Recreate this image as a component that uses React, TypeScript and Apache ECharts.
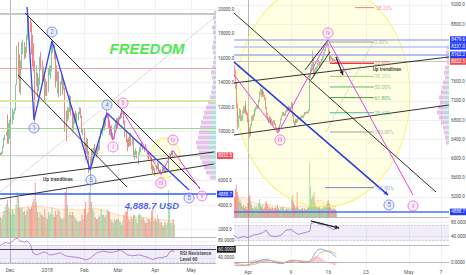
import React, { useEffect, useRef } from "react";
import * as echarts from "echarts";

// ================= LEFT PANEL: BTCUSD daily (x = days since 1 Dec 2017) =================
const leftFirstDay = -8; // 23 Nov 2017
const leftFirstOpen = 8233;
const leftClose = [
  8100, 8250, 8750, 9300, 9700, 9900, 9850, 9950,
  10850, 10900, 11250, 11600, 11700, 13800, 16800, 16050, 15000, 15000, 16700, 17200, 16400, 16600, 17600, 19300,
  19100, 18900, 17700, 16600, 15800, 13800, 14600, 14000, 14000, 16000, 15800, 14600, 14700, 12900, 14200,
  13500, 14800, 15200, 15200, 17100, 17200, 16200, 15000, 14400, 14900, 13300, 13800, 14200, 13600, 13600, 11400,
  11200, 11300, 11600, 12900, 11500, 10800, 11000, 11300, 11100, 11100, 11400, 11800, 11200, 10100, 10200,
  9100, 8900, 9200, 8200, 6900, 7700, 7600, 8200, 8700, 8500, 8100, 8900, 8500, 9500, 10000, 10200, 11100, 10400,
  11100, 11400, 10500, 9800, 10200, 9700, 9700, 10400, 10700, 10400,
  11000, 11000, 11500, 11500, 11600, 10700, 9900, 9300, 9200, 8800, 9600, 9200, 9200, 8200, 8300, 8300, 7900, 8200,
  8600, 9000, 8900, 8700, 8700, 8600, 8500, 8100, 7800, 7900, 7100, 6800, 6900,
  6800, 7000, 7400, 6800, 6800, 6600, 6900, 7000, 6700, 6800, 6900, 7900, 7900, 8000, 8300, 8000, 8022.5,
];
const leftHigh = [
  8270, 8350, 8800, 9500, 9750, 10000, 11400, 10700,
  10950, 11150, 11850, 11650, 11900, 13850, 17000, 17300, 16300, 15800, 17300, 17500, 17300, 16900, 17900, 19400,
  19700, 19200, 18900, 17900, 17200, 15800, 15400, 14800, 14400, 16100, 16500, 15800, 15300, 14700, 14300,
  14100, 15200, 15400, 15400, 17100, 17300, 17100, 16300, 15400, 14900, 14900, 14100, 14600, 14300, 14300, 13600,
  11700, 12000, 11900, 13000, 12900, 11900, 11300, 11500, 11700, 11500, 11600, 12000, 11900, 11300, 10300,
  10200, 9100, 9500, 9400, 8400, 7900, 8600, 8600, 8700, 9000, 8600, 8900, 8900, 9500, 10200, 10300, 11100, 11200,
  11300, 11800, 11400, 10900, 10400, 10500, 9900, 10500, 10900, 11100,
  11100, 11200, 11500, 11500, 11700, 11600, 10900, 10100, 9400, 9500, 9700, 9900, 9500, 9400, 8400, 8600, 8400, 8300,
  8700, 9000, 9200, 9100, 8800, 9000, 8700, 8500, 8200, 8100, 7900, 7300, 7200,
  7000, 7100, 7500, 7400, 6900, 6900, 7100, 7100, 7200, 6900, 6950, 8000, 8200, 8200, 8450, 8400, 8200,
];
const leftLow = [
  8050, 7980, 8200, 8700, 9300, 9650, 9000, 9000,
  9400, 10700, 10600, 10950, 11450, 11700, 13800, 14300, 13200, 13000, 15000, 16300, 15900, 16000, 16400, 17500,
  18700, 18100, 16300, 15300, 14900, 10800, 13700, 12800, 13300, 13800, 15000, 13900, 14100, 12500, 12900,
  12900, 13200, 14600, 14300, 14900, 16400, 15900, 13600, 14100, 13100, 12800, 12900, 13800, 13000, 13400, 10000,
  9200, 10800, 11000, 11600, 11300, 10100, 10100, 10600, 10900, 10400, 10900, 11400, 11100, 9900, 9700,
  8800, 7700, 8200, 7900, 6600, 6000, 7200, 7600, 7800, 8200, 7900, 8100, 8400, 8500, 9400, 9700, 10100, 10100,
  10400, 11100, 10300, 9700, 9600, 9400, 9300, 9400, 10300, 10300,
  10300, 10800, 11000, 11100, 11400, 10600, 9500, 9100, 8400, 8700, 8800, 8800, 8900, 7900, 7700, 7900, 7800, 7300,
  8100, 8300, 8800, 8500, 8300, 8500, 8400, 7900, 7700, 7700, 6900, 6600, 6800,
  6400, 6800, 7000, 6700, 6600, 6500, 6600, 6900, 6600, 6650, 6800, 6800, 7800, 7800, 8000, 7900, 7950,
];
// volume in relative units
const leftVolume = [
  20, 18, 22, 26, 30, 33, 37, 30,
  25, 22, 28, 24, 22, 32, 45, 40, 30, 28, 30, 25, 26, 22, 26, 30, 28, 28, 30, 35, 38, 55, 35, 25, 20, 25, 22, 22, 20, 28, 20,
  18, 25, 22, 24, 30, 22, 20, 26, 22, 28, 26, 20, 18, 18, 20, 45, 48, 32, 22, 25, 22, 25, 22, 20, 18, 16, 15, 16, 16, 22, 18,
  28, 35, 22, 25, 45, 59, 35, 28, 25, 20, 18, 18, 20, 22, 28, 22, 22, 20, 22, 28, 26, 25, 18, 16, 14, 18, 16, 18,
  18, 16, 15, 12, 16, 22, 25, 26, 30, 18, 16, 20, 18, 22, 22, 18, 14, 22, 24, 22, 18, 20, 16, 14, 14, 18, 18, 16, 26, 28, 16,
  18, 16, 22, 18, 14, 15, 12, 10, 15, 12, 14, 47, 30, 14, 14, 18, 12,
];
const leftVolumeMA = [
  [-8, 24], [0, 27], [10, 29], [20, 31], [30, 30], [40, 28], [50, 28], [60, 27], [70, 29], [80, 26],
  [90, 22], [100, 20], [110, 20], [120, 18], [130, 17], [137, 16],
];
const leftRSI = [
  [-8, 70], [-4, 76], [0, 74], [4, 84], [6, 86], [8, 80], [11, 78], [12, 76], [14, 80], [17, 72], [19, 52],
  [22, 47], [25, 50], [27, 53], [29, 54], [33, 47], [37, 48], [42, 52], [46, 45], [50, 43], [54, 42], [58, 40],
  [64, 35], [67, 40], [72, 51], [77, 56], [83, 53], [87, 54], [92, 59], [94, 55], [98, 47], [102, 45], [108, 47],
  [114, 42], [119, 36], [123, 40], [127, 41], [131, 44], [133, 54], [135, 57], [137, 55],
];
const leftDateTicks = [0, 31, 62, 90, 121, 151];
const leftDateLabels = ["Dec", "2018", "Feb", "Mar", "Apr", "May"];
const leftPriceTicks = [2000, 4000, 6000, 8000, 10000, 12000, 14000, 16000, 18000, 20000];
const leftRsiTicks = [80, 40];
// volume profile (top -> bottom)
const leftProfileUp = [1, 1, 1, 1, 1, 1, 1, 1, 1, 1, 1, 1, 2, 1, 1, 1, 2, 2, 3, 3, 4, 4, 5, 5, 6, 6, 7, 7, 6, 5, 5, 4, 3, 2];
const leftProfileDown = [1, 2, 1, 3, 2, 1, 2, 3, 2, 1, 2, 3, 3, 3, 2, 3, 3, 4, 5, 7, 8, 9, 10, 11, 11, 12, 13, 12, 11, 11, 9, 8, 7, 4];
// drawings (day, price)
const leftBlueWave = [[14.2, 20163], [20, 10939], [35, 17388], [66.7, 6857], [80.8, 11510], [149.2, 5224]];
const leftBlueNames = ["1", "2", "3", "4", "5"];
const leftBlueMarks = [[20, 10286], [35, 18122], [67.5, 6041], [80.8, 12163], [149.2, 4571]];
const leftPinkWave = [[80.8, 11510], [85.8, 9306], [93.3, 11755], [126, 6500], [135.8, 8450], [158.3, 5306]];
const leftPinkNames = ["i", "ii", "iii", "iv", "v"];
const leftPinkMarks = [[85.8, 8735], [94.2, 12327], [125.8, 5796], [135.8, 9306], [160, 4735]];
const leftChannelUpper = [[12.5, 19673], [158.3, 5388]];
const leftChannelLower = [[6.67, 14612], [97.5, 5469]];
const leftUpTrendA = [[-8.33, 6041], [170, 8327]];
const leftUpTrendB = [[-8.33, 4490], [170, 7347]];
const leftDotted = [[-8.33, 5061], [170, 19265]];
const leftEllipseCenter = [129.2, 7837];
const leftFreedomAt = [114.2, 16735];
const leftUsdAt = [118.3, 4000];
const leftUpTextAt = [40, 6122];
const leftRsiTextAt = [141.7, 43];

// ================= RIGHT PANEL: BTCUSD 4h (x = days since 1 Apr 2018) =================
const rightFirstT = -2.5; // 29 Mar 12:00
const rightBarsPerDay = 6;
const rightFirstOpen = 7900;
const rightClose = [
  7800, 7550, 7100,
  6950, 6700, 6850, 7000, 6800, 6840,
  6950, 7050, 7000, 7100, 6950, 6930,
  6800, 6600, 6500, 6700, 6850, 6820,
  6900, 6950, 7000, 7050, 7100, 7050,
  7200, 7350, 7400, 7300, 7420, 7380,
  7300, 7250, 7050, 6900, 6820, 6780,
  6850, 6750, 6800, 6760, 6700, 6790,
  6720, 6620, 6600, 6570, 6640, 6620,
  6700, 6820, 6880, 6950, 6920, 6900,
  6980, 7040, 7010, 7000, 7080, 7030,
  7060, 7150, 6900, 6760, 6700, 6770,
  6800, 6760, 6830, 6860, 6810, 6850,
  6880, 6860, 6900, 6930, 6950, 6940,
  6960, 6950, 7000, 7700, 7850, 7930,
  8050, 8100, 7750, 7820, 7850, 7890,
  7960, 8010, 7930, 8000, 8050, 8020,
  8100, 8200, 8250, 8310, 8350, 8380,
  8250, 8100, 8050, 8100, 8080, 8060,
  8060, 8030, 8010, 8022.5,
];
const rightHigh = [
  7950, 7850, 7600,
  7150, 6980, 6900, 7050, 7020, 6900,
  7000, 7100, 7080, 7200, 7120, 7000,
  6960, 6820, 6650, 6720, 6880, 6900,
  6930, 6980, 7030, 7080, 7120, 7110,
  7230, 7400, 7480, 7440, 7460, 7440,
  7400, 7330, 7270, 7080, 6950, 6850,
  6900, 6870, 6830, 6830, 6780, 6810,
  6800, 6740, 6660, 6620, 6670, 6670,
  6720, 6840, 6900, 6980, 6970, 6940,
  7000, 7070, 7060, 7030, 7100, 7090,
  7080, 7180, 7160, 6920, 6780, 6800,
  6830, 6820, 6850, 6880, 6870, 6870,
  6900, 6900, 6920, 6950, 6970, 6970,
  6980, 6980, 7030, 7750, 7900, 7980,
  8080, 8250, 8120, 7870, 7900, 7920,
  7990, 8050, 8030, 8020, 8080, 8070,
  8130, 8220, 8280, 8340, 8400, 8479.6,
  8390, 8260, 8140, 8150, 8130, 8100,
  8090, 8080, 8050, 8060,
];
const rightLow = [
  7700, 7450, 7050,
  6900, 6600, 6650, 6830, 6780, 6780,
  6800, 6930, 6950, 6980, 6920, 6900,
  6750, 6550, 6430, 6480, 6680, 6780,
  6800, 6870, 6930, 6980, 7030, 7030,
  7040, 7180, 7330, 7270, 7290, 7350,
  7280, 7220, 7030, 6870, 6800, 6740,
  6760, 6720, 6730, 6740, 6680, 6690,
  6700, 6600, 6580, 6550, 6560, 6600,
  6610, 6690, 6800, 6870, 6890, 6880,
  6890, 6960, 7000, 6980, 6990, 7020,
  7020, 7050, 6880, 6740, 6680, 6690,
  6760, 6740, 6750, 6820, 6800, 6800,
  6840, 6850, 6850, 6890, 6920, 6930,
  6930, 6940, 6940, 6990, 7680, 7830,
  7910, 8030, 7700, 7720, 7800, 7830,
  7870, 7940, 7900, 7920, 7990, 8000,
  8000, 8090, 8190, 8240, 8300, 8330,
  8200, 8060, 8000, 8040, 8060, 8030,
  8020, 8010, 7990, 7990,
];
const rightVolume = [
  20, 28, 32,
  25, 22, 16, 18, 14, 12,
  10, 12, 9, 11, 10, 8,
  14, 20, 22, 15, 12, 9,
  8, 10, 9, 12, 10, 8,
  14, 18, 12, 10, 12, 8,
  9, 10, 16, 14, 12, 8,
  10, 9, 8, 10, 9, 7,
  9, 10, 8, 12, 9, 7,
  8, 10, 9, 11, 8, 6,
  7, 9, 8, 7, 9, 6,
  8, 18, 22, 15, 12, 9,
  10, 25, 9, 8, 7, 8,
  8, 9, 7, 9, 8, 7,
  8, 9, 10, 54, 30, 18,
  22, 20, 25, 14, 12, 10,
  10, 9, 11, 8, 9, 8,
  9, 12, 10, 11, 13, 16,
  17, 14, 10, 9, 8, 7,
  9, 8, 7, 6,
];
const rightVolumeMA = [
  [-2.5, 18], [-1, 20], [0.5, 16], [2, 13], [4, 12], [6, 10], [8, 9], [10, 11], [11.5, 10],
  [12.5, 16], [13.5, 17], [15, 12], [16.5, 11],
];
const rightRSI = [
  [-2.6, 43], [-1.87, 35], [-0.93, 40], [0, 37], [0.93, 44], [1.87, 46], [2.8, 51], [3.36, 58], [4.1, 42],
  [5.04, 40], [5.97, 42], [6.53, 49], [7.09, 58], [8.02, 59], [8.77, 51], [9.33, 46], [10.26, 49], [11.19, 53],
  [11.57, 55], [11.75, 76], [12.5, 79], [13.43, 73], [14.37, 72], [14.93, 67], [15.49, 63], [16.04, 58], [16.42, 63],
];
const macdTimes = [-2.5, -1.5, -0.5, 0.5, 1.5, 2.5, 3.5, 4.5, 5.5, 6.5, 7.5, 8.5, 9.5, 10.5, 11.5, 12, 12.5, 13, 13.5, 14, 14.5, 15, 15.5, 16, 16.5];
const macdLine = [-3, -4, -3.5, -2, 0, 2, 3, 1, -1, -1.5, 1, 2, 1, 0, 0.5, 4, 9, 12, 13, 12.5, 11.5, 10.5, 9, 7, 5];
const macdSignal = [-1, -2.5, -3, -3, -2, 0, 1.5, 1.5, 0.5, -0.5, 0, 1, 1.5, 1, 0.5, 1.5, 3.5, 6.5, 9, 10.5, 11, 11, 10.5, 9.5, 8];
const macdHist = [-2, -1.5, -0.5, 1, 2, 2, 1.5, -0.5, -1.5, -1, 1, 1, -0.5, -1, 0, 2.5, 5.5, 5.5, 4, 2, 0.5, -0.5, -1.5, -2.5, -3];
const rightDateTicks = [0, 8, 15, 22, 30, 36];
const rightDateLabels = ["Apr", "9", "16", "23", "May", "7"];
const rightPriceTicks = [5200, 5600, 6000, 6400, 6800, 7200, 7600, 8800, 9200];
const rightRsiTicks = [80, 40];
const macdTicks = [0];
const rightProfileUp = [1, 1, 1, 1, 1, 2, 1, 2, 2, 3, 3, 3, 4, 4, 3, 3, 2, 2, 1, 1];
const rightProfileDown = [1, 2, 2, 1, 3, 3, 3, 4, 5, 5, 7, 6, 7, 8, 7, 5, 4, 3, 3, 2];
// drawings (day, price)
const rightLongDown = [[-2.61, 9033], [35.07, 5304]];
const rightUpTrendA = [[-2.61, 7575], [37.5, 8117]];
const rightUpTrendB = [[-2.61, 6492], [37.5, 7117]];
const rightBlueLine = [[-2.61, 8013], [26.12, 5242]];
const rightPinkWave = [[-2.61, 7742], [5.6, 6533], [14.93, 8471], [30.78, 5242]];
const rightPinkNames = ["iii", "iv", "v"];
const rightPinkMarks = [[5.97, 6388], [14.93, 8617], [30.78, 5013]];
const rightBlueNames = ["5"];
const rightBlueMarks = [[26.3, 5033]];
const rightSmallA = [[10.63, 7846], [14.93, 8471]];
const rightSmallB = [[11.75, 7638], [15.3, 8221]];
const rightDownArrow = [[16.42, 8117], [17.72, 7742]];
const rightFibTrend = [[14.55, 6554], [23.32, 8429]];
const rightRsiArrow = [[11.75, 82.8], [17.0, 63.4]];
const rightEllipseCenter = [14.0, 7325];
const rightUpTextAt = [25.93, 7860];
const fibHigh = 8429;
const fibLow = 6554;
const fibRatios = [-0.382, 0, 0.236, 0.382, 0.5, 0.618, 0.786, 1, 1.618];
const fibTexts = ["-38.20%", "0.00%", "23.60%", "38.20%", "50.00%", "61.80%", "78.60%", "100.00%", "161.80%"];
const fibFrom = [19.96, 15.3, 15.3, 15.3, 15.3, 15.3, 15.3, 15.3, 14.4];
const fibTo = 23.5;
const fibLabelX = 23.6;

// ================= styling =================
const FONT = "Roboto, 'DejaVu Sans', sans-serif";
const UP = "#4cb56a";
const DOWN = "#ef5350";
const VUP = "rgba(76,181,106,0.5)";
const VDOWN = "rgba(239,83,80,0.55)";
const BLUE = "#3446ee";
const PINK = "#f03ce8";
const GRIDC = "#eef1f6";
const AXC = "#b9b9b9";
const TAGBLUE = "#1f3cff";
const TAGRED = "#ef4f5c";

function buildOption() {
  const L0 = -8.333, L1 = 171.667, R0 = -2.612, R1 = 37.5;

  const leftCandles = leftClose.map((c, i) => [leftFirstDay + i, i === 0 ? leftFirstOpen : leftClose[i - 1], c, leftLow[i], leftHigh[i]]);
  const leftVol = leftVolume.map((v, i) => {
    const o = i === 0 ? leftFirstOpen : leftClose[i - 1];
    return { value: [leftFirstDay + i, v], itemStyle: { color: leftClose[i] >= o ? VUP : VDOWN } };
  });
  const rt = (i: number) => rightFirstT + i / rightBarsPerDay;
  const rightCandles = rightClose.map((c, i) => [rt(i), i === 0 ? rightFirstOpen : rightClose[i - 1], c, rightLow[i], rightHigh[i]]);
  const rightVol = rightVolume.map((v, i) => {
    const o = i === 0 ? rightFirstOpen : rightClose[i - 1];
    return { value: [rt(i), v], itemStyle: { color: rightClose[i] >= o ? VUP : VDOWN } };
  });

  const grids = [
    { left: 0, top: 0, width: 216, height: 237 },
    { left: 0, top: 237, width: 216, height: 26 },
    { left: 0, top: 150, width: 216, height: 87 },
    { left: 193, top: 10, width: 23, height: 170 },
    { left: 234, top: 0, width: 215, height: 217 },
    { left: 234, top: 217, width: 215, height: 28 },
    { left: 234, top: 245, width: 215, height: 21 },
    { left: 234, top: 150, width: 215, height: 67 },
    { left: 425, top: 45, width: 24, height: 100 },
  ].map((g) => ({ ...g, containLabel: false, outerBoundsMode: "none", show: false }));

  const vx = (gi: number, min: number, max: number, ticks: number[], labels: string[] | null, margin = 3) => ({
    gridIndex: gi, type: "value", min, max,
    axisLine: { show: true, lineStyle: { color: AXC, width: 1 } },
    axisTick: { show: false, customValues: ticks },
    splitLine: { show: true, lineStyle: { color: GRIDC, width: 1 } },
    axisLabel: labels
      ? { show: true, customValues: ticks, formatter: (v: number) => labels[ticks.indexOf(v)] ?? "", fontSize: 5, color: "#555", margin, fontFamily: FONT }
      : { show: false },
  });
  const hx = (gi: number, min: number, max: number, inverse = false) => ({ gridIndex: gi, type: "value", min, max, inverse, show: false });
  const vy = (gi: number, min: number, max: number, ticks: number[], fmt: (v: number) => string) => ({
    gridIndex: gi, type: "value", position: "right", min, max,
    axisLine: { show: true, lineStyle: { color: AXC, width: 1 } },
    axisTick: { show: false, customValues: ticks },
    splitLine: { show: true, lineStyle: { color: GRIDC, width: 1 } },
    axisLabel: { show: true, customValues: ticks, formatter: fmt, fontSize: 4.5, color: "#4a4a4a", margin: 2, fontFamily: FONT },
  });
  const catY = (gi: number, n: number) => ({
    gridIndex: gi, type: "category", inverse: true, show: false,
    data: Array.from({ length: n }, (_, i) => String(i)),
  });

  const tag = (value: number, text: string | null, bg: string, lineColor: string, width: number, opacity = 1) => ({
    yAxis: value,
    lineStyle: { color: lineColor, width, type: "solid", opacity },
    label: text
      ? { show: true, position: "end", formatter: text, backgroundColor: bg, color: "#fff", fontSize: 4.5, fontFamily: FONT, padding: [1, 1.2, 0.6, 1.2], distance: 1 }
      : { show: false },
  });

  const line = (xi: number, data: number[][], color: string, width = 1, type = "solid", z = 5, extra: any = {}) => ({
    type: "line", xAxisIndex: xi, yAxisIndex: xi, data, symbol: "none", silent: true, z,
    lineStyle: { color, width, type }, ...extra,
  });
  const arrow = (pts: number[][], color: string, width: number) => ({
    markLine: {
      silent: true, symbol: ["none", "arrow"], symbolSize: [3.5, 4.5], animation: false,
      lineStyle: { color, width, type: "solid" }, label: { show: false },
      data: [[{ coord: pts[0] }, { coord: pts[1] }]],
    },
  });
  const circles = (xi: number, pts: number[][], names: string[], color: string, fill: string) => ({
    type: "scatter", xAxisIndex: xi, yAxisIndex: xi, symbol: "circle", symbolSize: 10, z: 8, silent: true,
    itemStyle: { color: fill, borderColor: color, borderWidth: 0.8 },
    label: { show: true, position: "inside", formatter: (p: any) => p.name, color, fontSize: 6.5, fontFamily: FONT },
    data: pts.map((p, i) => ({ name: names[i], value: p })),
  });
  const text = (xi: number, pt: number[], str: string, style: any, position = "inside") => ({
    type: "scatter", xAxisIndex: xi, yAxisIndex: xi, symbolSize: 0.1, z: 9, silent: true,
    itemStyle: { color: "transparent" },
    label: { show: true, position, distance: 0, formatter: str, ...style },
    data: [pt],
  });
  const ellipse = (xi: number, c: number[], size: number[]) => ({
    type: "scatter", xAxisIndex: xi, yAxisIndex: xi, symbol: "circle", symbolSize: size, z: 1, silent: true,
    itemStyle: { color: "rgba(255,255,120,0.25)", borderColor: "#f2ee55", borderWidth: 1 },
    data: [c],
  });

  const fibColors = ["#f77c80", "#9e9e9e", "#f23645", "#9ccc65", "#66bb6a", "#43a047", "#4db6ac", "#9e9e9e", "#7986cb"];
  const fibSeries = fibRatios.map((r, k) => {
    const p = fibHigh - r * (fibHigh - fibLow);
    return line(4, [[fibFrom[k], p], [fibTo, p]], fibColors[k], k === 2 ? 1.6 : 1, "solid", 4);
  });
  const fibLabels = {
    type: "scatter", xAxisIndex: 4, yAxisIndex: 4, symbolSize: 0.1, z: 9, silent: true,
    itemStyle: { color: "transparent" },
    label: { show: true, position: "right", distance: 0, fontSize: 5, fontFamily: FONT },
    data: fibRatios.map((r, k) => ({
      value: [fibLabelX, fibHigh - r * (fibHigh - fibLow)],
      label: { color: fibColors[k], formatter: fibTexts[k] },
    })),
  };

  const rsiBand = (labels: any[]) => ({
    markArea: { silent: true, itemStyle: { color: "rgba(149,117,205,0.14)" }, data: [[{ yAxis: 30 }, { yAxis: 70 }]] },
    markLine: {
      silent: true, symbol: ["none", "none"], animation: false,
      data: [
        { yAxis: 70, lineStyle: { color: "#b9a6dd", type: "dashed", width: 0.6 }, label: { show: false } },
        { yAxis: 30, lineStyle: { color: "#b9a6dd", type: "dashed", width: 0.6 }, label: { show: false } },
        ...labels,
      ],
    },
  });

  const series: any[] = [
    // ---------- left ----------
    ellipse(0, leftEllipseCenter, [30, 40]),
    {
      type: "bar", xAxisIndex: 2, yAxisIndex: 2, data: leftVol, barWidth: 1, silent: true, z: 1,
    },
    line(2, leftVolumeMA, "rgba(255,160,60,0.55)", 0.6, "solid", 1, { areaStyle: { color: "rgba(255,183,77,0.25)" } }),
    { type: "bar", xAxisIndex: 3, yAxisIndex: 3, stack: "lp", data: leftProfileUp, barCategoryGap: "20%", silent: true, z: 1, itemStyle: { color: "rgba(38,166,154,0.35)" } },
    { type: "bar", xAxisIndex: 3, yAxisIndex: 3, stack: "lp", data: leftProfileDown, barCategoryGap: "20%", silent: true, z: 1, itemStyle: { color: "rgba(171,71,188,0.32)" } },
    {
      type: "candlestick", xAxisIndex: 0, yAxisIndex: 0, data: leftCandles, barWidth: 1, silent: true, z: 3,
      itemStyle: { color: UP, color0: DOWN, borderColor: UP, borderColor0: DOWN, borderWidth: 0.7 },
      markLine: {
        silent: true, symbol: ["none", "none"], animation: false,
        data: [
          tag(19590, null, "", "#c9c9c9", 2),
          tag(15184, null, "", "#f3a0a0", 1.2),
          tag(12490, null, "", "#d7eaa2", 2),
          tag(10286, null, "", "#9fd98a", 1),
          tag(8022.5, "8022.5", TAGRED, "#c8dcc0", 1),
          tag(4888.7, "4888.7", TAGBLUE, "#2f5cff", 1.5),
        ],
      },
    },
    line(0, leftDotted, "#a8a8a8", 0.8, "dotted", 4),
    line(0, leftChannelUpper, "#1c1c1c", 0.9),
    line(0, leftChannelLower, "#1c1c1c", 0.9),
    line(0, leftUpTrendA, "#1c1c1c", 0.9),
    line(0, leftUpTrendB, "#1c1c1c", 0.9),
    line(0, leftBlueWave, BLUE, 1.3, "solid", 6),
    line(0, leftPinkWave, PINK, 1, "solid", 6),
    circles(0, leftBlueMarks, leftBlueNames, "#4656e6", "rgba(215,222,255,0.6)"),
    circles(0, leftPinkMarks, leftPinkNames, "#de3cc8", "rgba(255,225,250,0.6)"),
    text(0, leftFreedomAt, "FREEDOM", { color: "#1fe21f", fontSize: 15, fontWeight: "bold", fontStyle: "italic", fontFamily: "'Liberation Sans', Arial, sans-serif" }),
    text(0, leftUsdAt, "4,888.7 USD", { color: "#2337ff", fontSize: 9.5, fontWeight: "bold", fontStyle: "italic", fontFamily: "'Liberation Sans', Arial, sans-serif" }),
    text(0, leftUpTextAt, "Up trendlines", { color: "#111", fontSize: 5, fontWeight: "bold", fontFamily: FONT }),
    {
      type: "line", xAxisIndex: 1, yAxisIndex: 1, data: leftRSI, symbol: "none", silent: true, z: 4,
      lineStyle: { color: "#9a6fd0", width: 0.8 },
      ...rsiBand([
        {
          yAxis: 60, lineStyle: { color: "#3b2f4a", type: "solid", width: 0.9 },
          label: { show: true, position: "end", formatter: "60.0000", backgroundColor: "#131313", color: "#fff", fontSize: 4.5, fontFamily: FONT, padding: [1, 1.2, 0.6, 1.2], distance: 1 },
        },
      ]),
    },
    text(1, leftRsiTextAt, "RSI Resistance\nLevel 60", { color: "#1a1a1a", fontSize: 4.6, fontWeight: "bold", lineHeight: 5.5, fontFamily: FONT }, "right"),

    // ---------- right ----------
    ellipse(4, rightEllipseCenter, [174, 224]),
    { type: "bar", xAxisIndex: 7, yAxisIndex: 7, data: rightVol, barWidth: 0.8, silent: true, z: 1 },
    line(7, rightVolumeMA, "rgba(255,160,60,0.55)", 0.6, "solid", 1, { areaStyle: { color: "rgba(255,183,77,0.25)" } }),
    { type: "bar", xAxisIndex: 8, yAxisIndex: 8, stack: "rp", data: rightProfileUp, barCategoryGap: "20%", silent: true, z: 1, itemStyle: { color: "rgba(38,166,154,0.35)" } },
    { type: "bar", xAxisIndex: 8, yAxisIndex: 8, stack: "rp", data: rightProfileDown, barCategoryGap: "20%", silent: true, z: 1, itemStyle: { color: "rgba(171,71,188,0.32)" } },
    {
      type: "candlestick", xAxisIndex: 4, yAxisIndex: 4, data: rightCandles, barWidth: 0.8, silent: true, z: 3,
      itemStyle: { color: UP, color0: DOWN, borderColor: UP, borderColor0: DOWN, borderWidth: 0.6 },
      markLine: {
        silent: true, symbol: ["none", "none"], animation: false,
        data: [
          tag(8479.6, "8479.6", TAGBLUE, "#aab4f2", 1.5),
          tag(8337.0, "8337.0", TAGBLUE, "#bcc3f5", 1.5),
          tag(8162.2, "8162.2", TAGBLUE, "#9ca9f0", 1.5),
          tag(8022.5, "8022.5", TAGRED, "#c4c4c4", 1),
          tag(7867, "50:17", "#e8444f", "#ffffff", 1, 0),
          tag(4888.7, "4888.7", TAGBLUE, "#4a72ff", 1.6),
        ],
      },
    },
    ...fibSeries,
    fibLabels,
    line(4, rightFibTrend, "#a8a8a8", 0.8, "dotted", 4),
    line(4, rightLongDown, "#1c1c1c", 0.9),
    line(4, rightUpTrendA, "#1c1c1c", 0.9),
    line(4, rightUpTrendB, "#1c1c1c", 0.9),
    line(4, rightSmallA, "#1c1c1c", 0.9),
    line(4, rightSmallB, "#1c1c1c", 0.9),
    line(4, rightDownArrow, "#1c1c1c", 0.9, "solid", 5, arrow(rightDownArrow, "#1c1c1c", 0.9)),
    line(4, rightBlueLine, "#2f3fe8", 1.3, "solid", 6, arrow(rightBlueLine, "#2f3fe8", 1.3)),
    line(4, rightPinkWave, PINK, 1, "solid", 6),
    circles(4, rightPinkMarks, rightPinkNames, "#de3cc8", "rgba(255,225,250,0.6)"),
    circles(4, rightBlueMarks, rightBlueNames, "#4656e6", "rgba(215,222,255,0.6)"),
    text(4, rightUpTextAt, "Up trendlines", { color: "#111", fontSize: 4.8, fontWeight: "bold", fontFamily: FONT }),
    {
      type: "line", xAxisIndex: 5, yAxisIndex: 5, data: rightRSI, symbol: "none", silent: true, z: 4,
      lineStyle: { color: "#9a6fd0", width: 0.8 },
      ...rsiBand([]),
    },
    line(5, rightRsiArrow, "#1c1c1c", 0.9, "solid", 6, arrow(rightRsiArrow, "#1c1c1c", 0.9)),
    line(6, macdTimes.map((t, i) => [t, macdHist[i]]), "rgba(236,64,122,0.3)", 0.4, "solid", 2, { areaStyle: { color: "rgba(240,98,146,0.45)" } }),
    line(6, macdTimes.map((t, i) => [t, macdLine[i]]), "#4aa3f0", 0.8, "solid", 4),
    line(6, macdTimes.map((t, i) => [t, macdSignal[i]]), "#ff9f40", 0.8, "solid", 4),
  ];

  return {
    animation: false,
    backgroundColor: "#ffffff",
    grid: grids,
    xAxis: [
      vx(0, L0, L1, leftDateTicks, null),
      vx(1, L0, L1, leftDateTicks, leftDateLabels, 4),
      hx(2, L0, L1),
      hx(3, 0, 23, true),
      vx(4, R0, R1, rightDateTicks, null),
      vx(5, R0, R1, rightDateTicks, null),
      vx(6, R0, R1, rightDateTicks, rightDateLabels, 3),
      hx(7, R0, R1),
      hx(8, 0, 24, true),
    ],
    yAxis: [
      vy(0, 1388, 20735, leftPriceTicks, (v) => v.toFixed(1)),
      vy(1, 28, 89, leftRsiTicks, (v) => v.toFixed(4)),
      { gridIndex: 2, type: "value", min: 0, max: 87, show: false },
      catY(3, leftProfileUp.length),
      vy(4, 4783, 9304, rightPriceTicks, (v) => v.toFixed(1)),
      vy(5, 16.6, 93.8, rightRsiTicks, (v) => v.toFixed(4)),
      vy(6, -4, 17, macdTicks, (v) => v.toFixed(4)),
      { gridIndex: 7, type: "value", min: 0, max: 67, show: false },
      catY(8, rightProfileUp.length),
    ],
    series,
  };
}

export default function App() {
  const ref = useRef<HTMLDivElement>(null);
  useEffect(() => {
    document.body.style.margin = "0";
    if (!ref.current) return;
    const chart = echarts.init(ref.current, null, { renderer: "svg" });
    chart.setOption(buildOption() as any);
    return () => chart.dispose();
  }, []);
  return <div ref={ref} style={{ width: 466, height: 275 }} />;
}
